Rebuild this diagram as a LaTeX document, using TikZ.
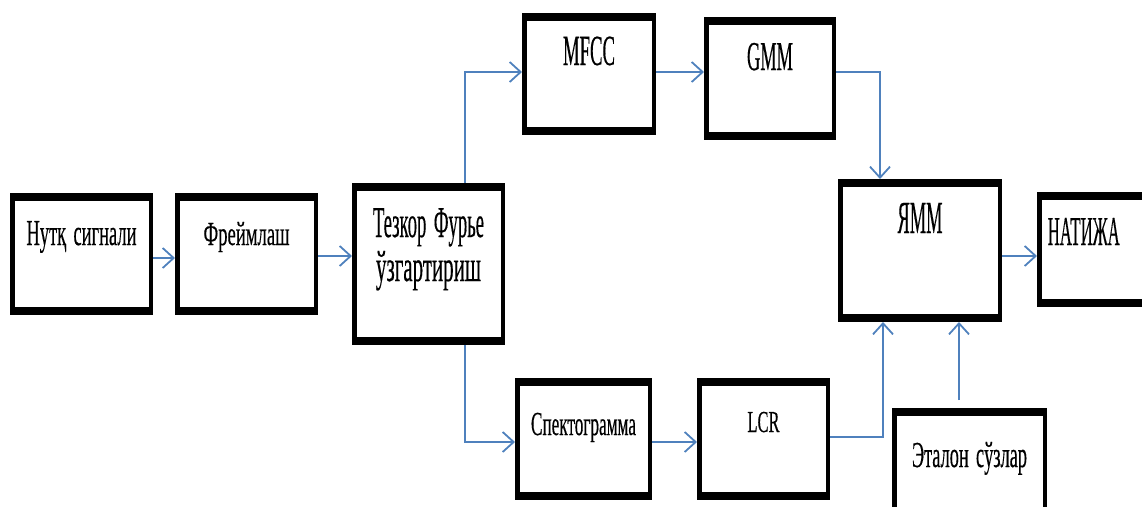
\documentclass[tikz,border=0pt]{standalone}
\usepackage{fontspec}
\setmainfont[FakeBold=0.5]{Liberation Serif}
\usepackage{graphicx}
\usetikzlibrary{arrows.meta}
\definecolor{lnblue}{HTML}{4F81BD}
\newcommand{\fitw}[3]{{\fontsize{#1}{#1}\selectfont\resizebox{#2}{\height}{#3}}}
\newcommand{\wsp}{\hspace{0.4em}}
\begin{document}
\begin{tikzpicture}[x=1pt,y=-1pt,
  blk/.style={draw=black, line width=4.5pt, inner sep=0pt, anchor=base, align=center, fill=white},
  conn/.style={draw=lnblue, line width=2pt, -{Straight Barb[length=11pt,width=20pt,line width=1.8pt]}}]
\useasboundingbox (0,0) rectangle (1142,506);
\node[blk, text width=138.5pt, text height=49.75pt, text depth=67.75pt] (n1) at (81.5,245) {\fitw{36.6pt}{110pt}{Нутқ\wsp сигнали}};
\node[blk, text width=138.5pt, text height=49.75pt, text depth=67.75pt] (n2) at (246.5,245) {\fitw{33.6pt}{86pt}{Фреймлаш}};
\node[blk, text width=148.5pt, text height=51.75pt, text depth=105.75pt, font=\fontsize{44pt}{44pt}\selectfont] (n3) at (428.5,237) {\fitw{44pt}{111pt}{Тезкор\wsp Фурье}\\\fitw{44pt}{105pt}{ўзгартириш}};
\node[blk, text width=129.5pt, text height=49.75pt, text depth=67.75pt] (mfcc) at (589,65) {\fitw{43pt}{52pt}{MFCC}};
\node[blk, text width=127.5pt, text height=50.75pt, text depth=67.75pt] (gmm) at (770,70) {\fitw{41pt}{46pt}{GMM}};
\node[blk, text width=132.5pt, text height=54.75pt, text depth=62.75pt] (spec) at (583.5,435) {\fitw{33.6pt}{105pt}{Спектограмма}};
\node[blk, text width=128.5pt, text height=51.75pt, text depth=65.75pt] (lcr) at (763.5,432) {\fitw{30.5pt}{32pt}{LCR}};
\node[blk, text width=159.5pt, text height=51.75pt, text depth=86.75pt] (ymm) at (920,233) {\fitw{46pt}{45pt}{ЯММ}};
\node[blk, text width=118.5pt, text height=50.75pt, text depth=59.75pt, align=left] (nat) at (1098.5,245) {\hspace*{8.5pt}\fitw{41pt}{72pt}{НАТИЖА}};
\node[blk, text width=150.5pt, text height=56.75pt, text depth=45.75pt] (etal) at (969.5,467) {\fitw{36.6pt}{115pt}{Эталон\wsp сўзлар}};
\foreach \n in {n1,n2,n3,mfcc,gmm,spec,lcr,ymm,nat,etal} {
  \fill (\n.north west) rectangle ([yshift=-8pt]\n.north east);
  \fill (\n.south west) rectangle ([yshift=8pt]\n.south east);
}
\draw[conn] (n1.east |- 0,258) -- (n2.west |- 0,258);
\draw[conn] (n2.east |- 0,256) -- (n3.west |- 0,256);
\draw[conn] (n3.north -| 465,0) |- (mfcc.west |- 0,72);
\draw[conn] (mfcc.east |- 0,72) -- (gmm.west |- 0,72);
\draw[conn] (gmm.east |- 0,72) -| (ymm.north -| 880,0);
\draw[conn] (n3.south -| 465,0) |- (spec.west |- 0,442);
\draw[conn] (spec.east |- 0,442) -- (lcr.west |- 0,442);
\draw[conn] (lcr.east |- 0,437) -| (ymm.south -| 883,0);
\draw[conn, shorten <=8pt] (etal.north -| 959,0) -- (ymm.south -| 959,0);
\draw[conn] (ymm.east |- 0,256) -- (nat.west |- 0,256);
\end{tikzpicture}
\end{document}
